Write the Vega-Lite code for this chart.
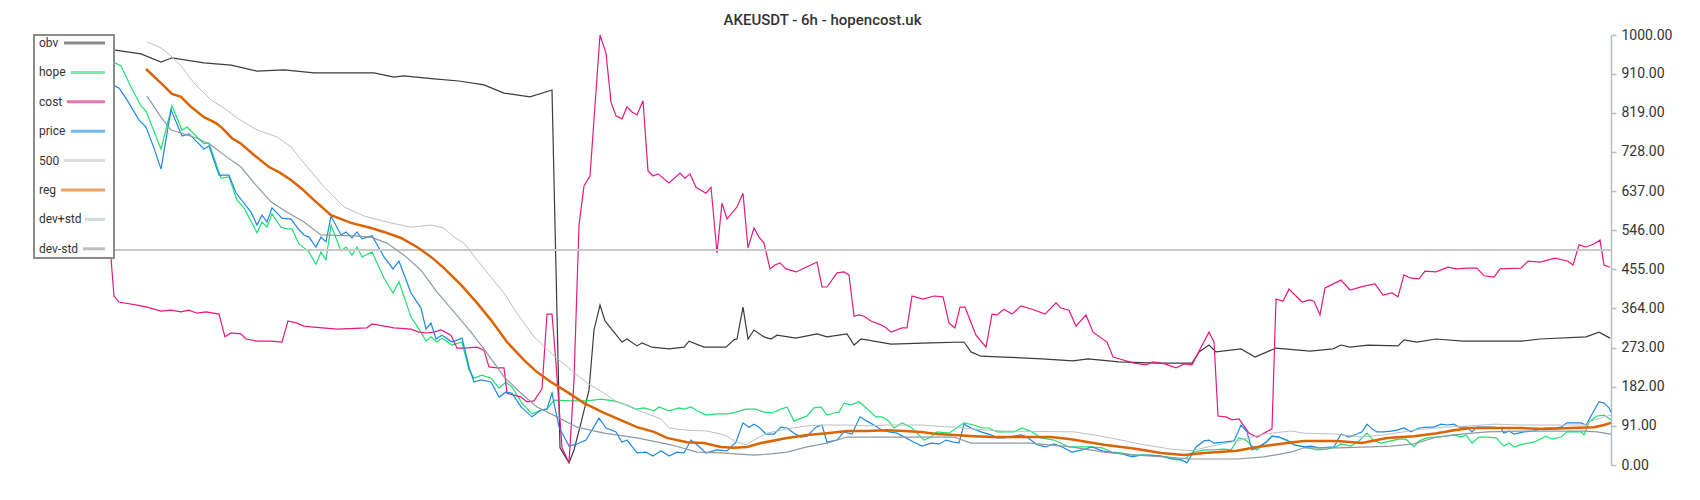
{
  "$schema": "https://vega.github.io/schema/vega-lite/v6.json",
  "width": 1577,
  "height": 430,
  "padding": {"left": 30, "top": 13, "right": 10, "bottom": 35},
  "background": "white",
  "title": {"text": "AKEUSDT - 6h - hopencost.uk", "font": "Roboto", "fontSize": 15, "fontWeight": 500, "color": "#333333", "offset": 0, "anchor": "middle"},
  "config": {"view": {"stroke": null}, "font": "Roboto"},
  "datasets": {
    "obv": [{"t":0,"v":977},{"t":30,"v":972},{"t":81,"v":965},{"t":107,"v":956},{"t":127,"v":937},{"t":138,"v":947},{"t":170,"v":935},{"t":197,"v":930},{"t":223,"v":916},{"t":250,"v":919},{"t":280,"v":912},{"t":310,"v":912},{"t":340,"v":912},{"t":360,"v":902},{"t":370,"v":905},{"t":400,"v":898},{"t":425,"v":893},{"t":450,"v":884},{"t":470,"v":865},{"t":496,"v":856},{"t":518,"v":872},{"t":526,"v":40},{"t":535,"v":5},{"t":540,"v":35},{"t":547,"v":98},{"t":555,"v":174},{"t":560,"v":314},{"t":566,"v":372},{"t":571,"v":335},{"t":588,"v":286},{"t":593,"v":293},{"t":603,"v":277},{"t":608,"v":284},{"t":618,"v":274},{"t":635,"v":270},{"t":650,"v":274},{"t":655,"v":288},{"t":670,"v":274},{"t":692,"v":274},{"t":700,"v":291},{"t":703,"v":293},{"t":709,"v":367},{"t":714,"v":293},{"t":720,"v":314},{"t":730,"v":298},{"t":737,"v":293},{"t":743,"v":302},{"t":762,"v":295},{"t":783,"v":305},{"t":793,"v":298},{"t":813,"v":305},{"t":820,"v":279},{"t":827,"v":293},{"t":857,"v":281},{"t":897,"v":284},{"t":930,"v":286},{"t":937,"v":263},{"t":947,"v":253},{"t":970,"v":251},{"t":1008,"v":247},{"t":1039,"v":242},{"t":1054,"v":247},{"t":1085,"v":240},{"t":1123,"v":237},{"t":1158,"v":237},{"t":1165,"v":263},{"t":1175,"v":279},{"t":1182,"v":263},{"t":1207,"v":270},{"t":1221,"v":251},{"t":1242,"v":272},{"t":1276,"v":265},{"t":1299,"v":270},{"t":1307,"v":279},{"t":1316,"v":274},{"t":1334,"v":279},{"t":1364,"v":277},{"t":1370,"v":291},{"t":1383,"v":286},{"t":1402,"v":293},{"t":1429,"v":288},{"t":1487,"v":288},{"t":1506,"v":293},{"t":1552,"v":298},{"t":1565,"v":309},{"t":1576,"v":295}],
    "hope": [{"t":0,"v":955},{"t":30,"v":947},{"t":60,"v":942},{"t":81,"v":935},{"t":87,"v":928},{"t":97,"v":879},{"t":107,"v":835},{"t":112,"v":823},{"t":127,"v":735},{"t":138,"v":835},{"t":148,"v":779},{"t":153,"v":786},{"t":170,"v":747},{"t":175,"v":749},{"t":187,"v":667},{"t":195,"v":670},{"t":203,"v":616},{"t":210,"v":598},{"t":223,"v":540},{"t":228,"v":565},{"t":233,"v":553},{"t":238,"v":584},{"t":247,"v":553},{"t":253,"v":549},{"t":258,"v":549},{"t":265,"v":514},{"t":270,"v":505},{"t":275,"v":495},{"t":282,"v":467},{"t":287,"v":495},{"t":292,"v":477},{"t":297,"v":558},{"t":307,"v":498},{"t":312,"v":507},{"t":318,"v":488},{"t":323,"v":507},{"t":328,"v":484},{"t":338,"v":495},{"t":350,"v":435},{"t":359,"v":400},{"t":365,"v":426},{"t":377,"v":344},{"t":387,"v":309},{"t":392,"v":288},{"t":397,"v":298},{"t":403,"v":286},{"t":408,"v":295},{"t":418,"v":279},{"t":428,"v":286},{"t":435,"v":221},{"t":440,"v":202},{"t":448,"v":209},{"t":457,"v":202},{"t":465,"v":179},{"t":472,"v":193},{"t":478,"v":181},{"t":488,"v":144},{"t":498,"v":119},{"t":507,"v":128},{"t":513,"v":130},{"t":520,"v":151},{"t":537,"v":149},{"t":553,"v":149},{"t":567,"v":153},{"t":580,"v":149},{"t":592,"v":140},{"t":602,"v":130},{"t":610,"v":133},{"t":620,"v":126},{"t":625,"v":135},{"t":635,"v":126},{"t":645,"v":133},{"t":650,"v":130},{"t":657,"v":135},{"t":663,"v":126},{"t":672,"v":116},{"t":683,"v":119},{"t":693,"v":119},{"t":702,"v":123},{"t":712,"v":130},{"t":722,"v":130},{"t":730,"v":123},{"t":738,"v":121},{"t":747,"v":130},{"t":753,"v":135},{"t":760,"v":102},{"t":767,"v":109},{"t":773,"v":114},{"t":780,"v":133},{"t":787,"v":135},{"t":793,"v":116},{"t":800,"v":121},{"t":805,"v":123},{"t":810,"v":144},{"t":817,"v":140},{"t":825,"v":147},{"t":832,"v":133},{"t":842,"v":112},{"t":848,"v":112},{"t":855,"v":102},{"t":860,"v":86},{"t":868,"v":98},{"t":877,"v":88},{"t":883,"v":74},{"t":890,"v":58},{"t":897,"v":65},{"t":903,"v":77},{"t":915,"v":74},{"t":930,"v":98},{"t":940,"v":93},{"t":948,"v":86},{"t":955,"v":86},{"t":963,"v":77},{"t":970,"v":77},{"t":980,"v":77},{"t":988,"v":86},{"t":998,"v":77},{"t":1007,"v":63},{"t":1020,"v":58},{"t":1035,"v":42},{"t":1047,"v":42},{"t":1057,"v":42},{"t":1068,"v":40},{"t":1078,"v":30},{"t":1087,"v":28},{"t":1098,"v":23},{"t":1110,"v":23},{"t":1123,"v":21},{"t":1133,"v":19},{"t":1143,"v":12},{"t":1152,"v":16},{"t":1157,"v":28},{"t":1170,"v":35},{"t":1178,"v":35},{"t":1190,"v":37},{"t":1197,"v":35},{"t":1205,"v":63},{"t":1212,"v":58},{"t":1218,"v":44},{"t":1223,"v":35},{"t":1232,"v":53},{"t":1238,"v":67},{"t":1245,"v":65},{"t":1253,"v":56},{"t":1260,"v":47},{"t":1270,"v":42},{"t":1283,"v":35},{"t":1293,"v":37},{"t":1302,"v":42},{"t":1307,"v":49},{"t":1317,"v":44},{"t":1325,"v":56},{"t":1333,"v":74},{"t":1340,"v":56},{"t":1347,"v":51},{"t":1357,"v":56},{"t":1365,"v":60},{"t":1372,"v":60},{"t":1380,"v":42},{"t":1385,"v":56},{"t":1393,"v":63},{"t":1403,"v":65},{"t":1412,"v":67},{"t":1420,"v":70},{"t":1427,"v":65},{"t":1432,"v":70},{"t":1438,"v":51},{"t":1445,"v":65},{"t":1453,"v":65},{"t":1462,"v":63},{"t":1470,"v":44},{"t":1475,"v":51},{"t":1480,"v":42},{"t":1490,"v":49},{"t":1500,"v":53},{"t":1512,"v":67},{"t":1518,"v":60},{"t":1527,"v":65},{"t":1533,"v":77},{"t":1547,"v":77},{"t":1550,"v":70},{"t":1555,"v":100},{"t":1563,"v":114},{"t":1570,"v":116},{"t":1577,"v":105}],
    "cost": [{"t":0,"v":686},{"t":70,"v":686},{"t":80,"v":393},{"t":85,"v":379},{"t":103,"v":372},{"t":113,"v":367},{"t":127,"v":358},{"t":137,"v":360},{"t":147,"v":356},{"t":155,"v":360},{"t":163,"v":353},{"t":172,"v":356},{"t":185,"v":351},{"t":191,"v":298},{"t":197,"v":307},{"t":207,"v":305},{"t":212,"v":293},{"t":223,"v":288},{"t":237,"v":288},{"t":248,"v":286},{"t":254,"v":335},{"t":263,"v":330},{"t":270,"v":323},{"t":277,"v":321},{"t":303,"v":316},{"t":333,"v":319},{"t":338,"v":328},{"t":360,"v":319},{"t":377,"v":316},{"t":385,"v":309},{"t":393,"v":307},{"t":400,"v":309},{"t":407,"v":314},{"t":417,"v":302},{"t":423,"v":272},{"t":430,"v":272},{"t":443,"v":274},{"t":450,"v":267},{"t":455,"v":228},{"t":463,"v":226},{"t":470,"v":226},{"t":473,"v":167},{"t":487,"v":158},{"t":493,"v":147},{"t":500,"v":149},{"t":508,"v":177},{"t":513,"v":351},{"t":518,"v":351},{"t":522,"v":237},{"t":528,"v":40},{"t":535,"v":5},{"t":540,"v":198},{"t":545,"v":558},{"t":550,"v":649},{"t":556,"v":672},{"t":566,"v":1000},{"t":572,"v":958},{"t":577,"v":844},{"t":582,"v":812},{"t":588,"v":805},{"t":593,"v":833},{"t":598,"v":821},{"t":603,"v":814},{"t":609,"v":847},{"t":614,"v":684},{"t":619,"v":672},{"t":624,"v":677},{"t":635,"v":656},{"t":646,"v":679},{"t":651,"v":667},{"t":656,"v":677},{"t":662,"v":646},{"t":672,"v":632},{"t":677,"v":646},{"t":683,"v":493},{"t":688,"v":609},{"t":693,"v":572},{"t":703,"v":600},{"t":709,"v":632},{"t":714,"v":505},{"t":720,"v":551},{"t":725,"v":530},{"t":730,"v":516},{"t":736,"v":456},{"t":741,"v":465},{"t":746,"v":470},{"t":752,"v":456},{"t":762,"v":449},{"t":772,"v":460},{"t":783,"v":472},{"t":788,"v":414},{"t":793,"v":414},{"t":803,"v":447},{"t":810,"v":449},{"t":815,"v":442},{"t":820,"v":346},{"t":825,"v":349},{"t":830,"v":346},{"t":837,"v":335},{"t":847,"v":326},{"t":852,"v":319},{"t":857,"v":309},{"t":868,"v":319},{"t":873,"v":319},{"t":878,"v":393},{"t":889,"v":386},{"t":900,"v":393},{"t":909,"v":391},{"t":915,"v":330},{"t":921,"v":319},{"t":926,"v":367},{"t":931,"v":367},{"t":942,"v":302},{"t":952,"v":274},{"t":958,"v":351},{"t":963,"v":349},{"t":970,"v":362},{"t":978,"v":351},{"t":987,"v":370},{"t":1001,"v":360},{"t":1011,"v":351},{"t":1022,"v":377},{"t":1027,"v":365},{"t":1035,"v":360},{"t":1042,"v":323},{"t":1052,"v":349},{"t":1059,"v":309},{"t":1073,"v":286},{"t":1079,"v":251},{"t":1085,"v":247},{"t":1100,"v":237},{"t":1112,"v":233},{"t":1119,"v":240},{"t":1131,"v":235},{"t":1142,"v":226},{"t":1150,"v":235},{"t":1158,"v":233},{"t":1167,"v":274},{"t":1175,"v":309},{"t":1180,"v":286},{"t":1184,"v":114},{"t":1192,"v":112},{"t":1198,"v":105},{"t":1205,"v":107},{"t":1215,"v":74},{"t":1223,"v":65},{"t":1238,"v":84},{"t":1242,"v":386},{"t":1249,"v":381},{"t":1255,"v":409},{"t":1268,"v":379},{"t":1276,"v":384},{"t":1280,"v":381},{"t":1286,"v":349},{"t":1291,"v":412},{"t":1307,"v":430},{"t":1316,"v":407},{"t":1330,"v":416},{"t":1341,"v":421},{"t":1349,"v":395},{"t":1358,"v":400},{"t":1364,"v":391},{"t":1370,"v":442},{"t":1376,"v":435},{"t":1385,"v":433},{"t":1391,"v":451},{"t":1402,"v":449},{"t":1414,"v":460},{"t":1422,"v":456},{"t":1433,"v":458},{"t":1443,"v":458},{"t":1450,"v":440},{"t":1460,"v":437},{"t":1466,"v":456},{"t":1487,"v":458},{"t":1494,"v":474},{"t":1506,"v":472},{"t":1521,"v":481},{"t":1534,"v":474},{"t":1539,"v":465},{"t":1545,"v":512},{"t":1552,"v":507},{"t":1560,"v":514},{"t":1566,"v":523},{"t":1570,"v":465},{"t":1576,"v":460}],
    "price": [{"t":0,"v":990},{"t":15,"v":1000},{"t":37,"v":1000},{"t":60,"v":940},{"t":81,"v":881},{"t":85,"v":877},{"t":93,"v":849},{"t":105,"v":802},{"t":112,"v":786},{"t":120,"v":737},{"t":127,"v":688},{"t":137,"v":826},{"t":148,"v":765},{"t":155,"v":770},{"t":170,"v":735},{"t":175,"v":742},{"t":185,"v":674},{"t":195,"v":674},{"t":202,"v":633},{"t":217,"v":588},{"t":223,"v":558},{"t":228,"v":581},{"t":233,"v":565},{"t":238,"v":598},{"t":248,"v":574},{"t":257,"v":572},{"t":265,"v":547},{"t":270,"v":535},{"t":275,"v":530},{"t":282,"v":507},{"t":287,"v":530},{"t":292,"v":519},{"t":297,"v":579},{"t":307,"v":535},{"t":312,"v":542},{"t":318,"v":528},{"t":323,"v":542},{"t":328,"v":526},{"t":338,"v":533},{"t":350,"v":484},{"t":359,"v":456},{"t":365,"v":474},{"t":377,"v":400},{"t":387,"v":365},{"t":392,"v":316},{"t":397,"v":330},{"t":402,"v":293},{"t":408,"v":302},{"t":418,"v":286},{"t":428,"v":295},{"t":435,"v":228},{"t":440,"v":193},{"t":447,"v":198},{"t":457,"v":193},{"t":465,"v":158},{"t":472,"v":170},{"t":478,"v":167},{"t":487,"v":135},{"t":498,"v":112},{"t":507,"v":128},{"t":513,"v":130},{"t":518,"v":167},{"t":525,"v":88},{"t":535,"v":44},{"t":543,"v":49},{"t":552,"v":58},{"t":565,"v":109},{"t":572,"v":86},{"t":582,"v":77},{"t":588,"v":53},{"t":593,"v":58},{"t":603,"v":28},{"t":612,"v":30},{"t":619,"v":21},{"t":627,"v":33},{"t":635,"v":21},{"t":643,"v":30},{"t":650,"v":28},{"t":657,"v":58},{"t":663,"v":47},{"t":672,"v":28},{"t":683,"v":35},{"t":693,"v":33},{"t":702,"v":53},{"t":709,"v":98},{"t":715,"v":88},{"t":720,"v":95},{"t":725,"v":88},{"t":732,"v":72},{"t":740,"v":72},{"t":747,"v":88},{"t":753,"v":86},{"t":760,"v":74},{"t":767,"v":65},{"t":773,"v":67},{"t":782,"v":88},{"t":788,"v":93},{"t":793,"v":53},{"t":803,"v":58},{"t":810,"v":77},{"t":818,"v":72},{"t":826,"v":112},{"t":833,"v":102},{"t":840,"v":93},{"t":848,"v":81},{"t":855,"v":77},{"t":863,"v":74},{"t":880,"v":53},{"t":888,"v":44},{"t":897,"v":51},{"t":905,"v":49},{"t":912,"v":58},{"t":920,"v":53},{"t":925,"v":51},{"t":930,"v":95},{"t":937,"v":86},{"t":947,"v":77},{"t":957,"v":70},{"t":963,"v":63},{"t":970,"v":63},{"t":987,"v":70},{"t":993,"v":65},{"t":1003,"v":47},{"t":1012,"v":42},{"t":1020,"v":49},{"t":1028,"v":42},{"t":1038,"v":30},{"t":1048,"v":35},{"t":1058,"v":42},{"t":1068,"v":33},{"t":1080,"v":28},{"t":1088,"v":26},{"t":1098,"v":19},{"t":1107,"v":23},{"t":1117,"v":23},{"t":1127,"v":21},{"t":1137,"v":14},{"t":1143,"v":14},{"t":1150,"v":9},{"t":1153,"v":5},{"t":1162,"v":42},{"t":1170,"v":56},{"t":1175,"v":58},{"t":1180,"v":51},{"t":1190,"v":53},{"t":1200,"v":56},{"t":1207,"v":93},{"t":1213,"v":77},{"t":1218,"v":35},{"t":1223,"v":40},{"t":1232,"v":53},{"t":1238,"v":67},{"t":1245,"v":65},{"t":1253,"v":58},{"t":1260,"v":47},{"t":1270,"v":42},{"t":1277,"v":44},{"t":1285,"v":40},{"t":1300,"v":42},{"t":1307,"v":72},{"t":1315,"v":65},{"t":1323,"v":72},{"t":1328,"v":77},{"t":1333,"v":95},{"t":1338,"v":84},{"t":1343,"v":77},{"t":1350,"v":77},{"t":1357,"v":79},{"t":1363,"v":81},{"t":1370,"v":86},{"t":1377,"v":77},{"t":1385,"v":86},{"t":1393,"v":88},{"t":1400,"v":88},{"t":1407,"v":95},{"t":1413,"v":93},{"t":1420,"v":95},{"t":1425,"v":88},{"t":1433,"v":88},{"t":1438,"v":77},{"t":1443,"v":88},{"t":1457,"v":88},{"t":1467,"v":86},{"t":1470,"v":74},{"t":1475,"v":79},{"t":1480,"v":72},{"t":1490,"v":77},{"t":1500,"v":79},{"t":1510,"v":86},{"t":1520,"v":86},{"t":1527,"v":88},{"t":1533,"v":98},{"t":1547,"v":98},{"t":1552,"v":93},{"t":1557,"v":114},{"t":1565,"v":147},{"t":1570,"v":144},{"t":1575,"v":133},{"t":1577,"v":123}],
    "level": [{"t":0,"v":500},{"t":1577,"v":500}],
    "reg": [{"t":112,"v":921},{"t":127,"v":888},{"t":138,"v":863},{"t":147,"v":856},{"t":157,"v":833},{"t":170,"v":809},{"t":182,"v":795},{"t":188,"v":784},{"t":198,"v":760},{"t":207,"v":747},{"t":220,"v":721},{"t":235,"v":693},{"t":245,"v":681},{"t":257,"v":663},{"t":268,"v":642},{"t":280,"v":616},{"t":297,"v":581},{"t":317,"v":563},{"t":337,"v":551},{"t":350,"v":542},{"t":367,"v":528},{"t":383,"v":507},{"t":397,"v":484},{"t":410,"v":458},{"t":427,"v":419},{"t":443,"v":377},{"t":457,"v":337},{"t":473,"v":286},{"t":490,"v":244},{"t":503,"v":216},{"t":517,"v":193},{"t":533,"v":170},{"t":550,"v":144},{"t":570,"v":121},{"t":603,"v":88},{"t":620,"v":77},{"t":633,"v":63},{"t":653,"v":53},{"t":670,"v":51},{"t":687,"v":42},{"t":700,"v":40},{"t":713,"v":42},{"t":727,"v":51},{"t":753,"v":63},{"t":773,"v":70},{"t":793,"v":74},{"t":813,"v":79},{"t":833,"v":79},{"t":853,"v":81},{"t":870,"v":79},{"t":887,"v":77},{"t":903,"v":72},{"t":920,"v":70},{"t":940,"v":67},{"t":960,"v":65},{"t":987,"v":65},{"t":1017,"v":65},{"t":1037,"v":60},{"t":1070,"v":47},{"t":1103,"v":37},{"t":1127,"v":28},{"t":1150,"v":23},{"t":1170,"v":28},{"t":1203,"v":33},{"t":1223,"v":42},{"t":1253,"v":51},{"t":1270,"v":56},{"t":1303,"v":56},{"t":1328,"v":51},{"t":1353,"v":63},{"t":1380,"v":67},{"t":1403,"v":74},{"t":1420,"v":81},{"t":1437,"v":86},{"t":1457,"v":86},{"t":1487,"v":86},{"t":1510,"v":84},{"t":1537,"v":86},{"t":1560,"v":88},{"t":1570,"v":93},{"t":1577,"v":98}],
    "devplus": [{"t":113,"v":984},{"t":127,"v":970},{"t":138,"v":949},{"t":148,"v":926},{"t":160,"v":888},{"t":177,"v":849},{"t":190,"v":830},{"t":203,"v":807},{"t":223,"v":779},{"t":243,"v":763},{"t":257,"v":740},{"t":270,"v":702},{"t":290,"v":647},{"t":310,"v":600},{"t":330,"v":579},{"t":353,"v":565},{"t":377,"v":553},{"t":397,"v":558},{"t":410,"v":551},{"t":420,"v":530},{"t":430,"v":516},{"t":443,"v":477},{"t":457,"v":437},{"t":470,"v":400},{"t":483,"v":353},{"t":500,"v":298},{"t":517,"v":260},{"t":537,"v":221},{"t":553,"v":191},{"t":570,"v":167},{"t":580,"v":151},{"t":603,"v":128},{"t":627,"v":107},{"t":635,"v":86},{"t":653,"v":81},{"t":673,"v":79},{"t":690,"v":70},{"t":703,"v":53},{"t":712,"v":47},{"t":720,"v":58},{"t":733,"v":74},{"t":753,"v":84},{"t":773,"v":91},{"t":793,"v":93},{"t":813,"v":93},{"t":833,"v":91},{"t":853,"v":93},{"t":887,"v":93},{"t":920,"v":88},{"t":953,"v":81},{"t":970,"v":79},{"t":1040,"v":77},{"t":1060,"v":70},{"t":1087,"v":58},{"t":1110,"v":47},{"t":1137,"v":37},{"t":1157,"v":33},{"t":1170,"v":40},{"t":1203,"v":56},{"t":1230,"v":72},{"t":1257,"v":79},{"t":1270,"v":74},{"t":1300,"v":72},{"t":1327,"v":65},{"t":1350,"v":70},{"t":1380,"v":81},{"t":1410,"v":88},{"t":1437,"v":91},{"t":1460,"v":95},{"t":1487,"v":93},{"t":1520,"v":93},{"t":1550,"v":93},{"t":1560,"v":105},{"t":1577,"v":116}],
    "devminus": [{"t":113,"v":858},{"t":127,"v":809},{"t":137,"v":779},{"t":147,"v":772},{"t":163,"v":760},{"t":177,"v":744},{"t":193,"v":716},{"t":207,"v":693},{"t":220,"v":656},{"t":237,"v":612},{"t":253,"v":588},{"t":270,"v":565},{"t":287,"v":535},{"t":320,"v":533},{"t":337,"v":530},{"t":353,"v":516},{"t":370,"v":488},{"t":387,"v":453},{"t":403,"v":402},{"t":420,"v":356},{"t":437,"v":309},{"t":453,"v":260},{"t":470,"v":205},{"t":487,"v":167},{"t":503,"v":135},{"t":523,"v":112},{"t":543,"v":88},{"t":570,"v":74},{"t":603,"v":63},{"t":637,"v":47},{"t":663,"v":30},{"t":687,"v":28},{"t":720,"v":23},{"t":737,"v":26},{"t":753,"v":30},{"t":773,"v":42},{"t":793,"v":51},{"t":813,"v":65},{"t":853,"v":65},{"t":920,"v":65},{"t":937,"v":51},{"t":970,"v":51},{"t":997,"v":51},{"t":1037,"v":42},{"t":1070,"v":30},{"t":1103,"v":23},{"t":1130,"v":19},{"t":1157,"v":14},{"t":1203,"v":14},{"t":1230,"v":19},{"t":1257,"v":30},{"t":1270,"v":40},{"t":1303,"v":40},{"t":1337,"v":42},{"t":1357,"v":44},{"t":1380,"v":49},{"t":1403,"v":65},{"t":1427,"v":72},{"t":1453,"v":77},{"t":1487,"v":79},{"t":1550,"v":79},{"t":1563,"v":77},{"t":1577,"v":72}]
  },
  "encoding": {
    "x": {"field": "t", "type": "quantitative", "scale": {"domain": [0, 1577], "nice": false, "zero": false}, "axis": null},
    "y": {"field": "v", "type": "quantitative", "scale": {"domain": [0, 1000], "nice": false, "zero": false},
      "axis": {"orient": "right", "title": null, "grid": false, "values": [0, 91, 182, 273, 364, 455, 546, 637, 728, 819, 910, 1000], "format": ".2f", "labelFont": "Roboto", "labelFontSize": 14, "labelColor": "#333333", "labelPadding": 5, "tickSize": 5, "tickColor": "#b3bec6", "domainColor": "#b3bec6", "domainWidth": 1.5, "tickWidth": 1.5}}
  },
  "layer": [
    {"data": {"name": "obv"}, "mark": {"type": "line", "strokeWidth": 1.2},
     "encoding": {"color": {"datum": "obv", "type": "nominal",
       "scale": {"domain": ["obv", "hope", "cost", "price", "500", "reg", "dev+std", "dev-std"], "range": ["#3c3c3c", "#1ee06f", "#e6197f", "#1e88e5", "#c8c8c8", "#dc6400", "#b9c0c5", "#8d99a2"]},
       "legend": {"orient": "none", "legendX": 0, "legendY": 0, "title": " ", "titleFontSize": 3, "titlePadding": 2, "symbolType": "stroke", "symbolStrokeWidth": 3, "symbolOpacity": 0.6, "symbolSize": 100, "rowPadding": 17.4, "padding": 3, "fillColor": "white", "strokeColor": "#8c8c8c", "labelFont": "Roboto", "labelFontSize": 12, "labelColor": "#333333", "labelLimit": 100,
         "encode": {
           "legend": {"update": {"strokeWidth": {"value": 2}}},
           "entries": {"update": {"width": {"value": 75}}},
           "symbols": {"update": {"x": {"signal": "68 - [41,34,38,34,41,44,20,22][datum.index]/2"}, "size": {"signal": "pow([41,34,38,34,41,44,20,22][datum.index], 2)"}}},
           "labels": {"update": {"x": {"value": 2}}}
         }}}}},
    {"data": {"name": "hope"}, "mark": {"type": "line", "strokeWidth": 1.2}, "encoding": {"color": {"datum": "hope", "type": "nominal"}}},
    {"data": {"name": "cost"}, "mark": {"type": "line", "strokeWidth": 1.2}, "encoding": {"color": {"datum": "cost", "type": "nominal"}}},
    {"data": {"name": "price"}, "mark": {"type": "line", "strokeWidth": 1.2}, "encoding": {"color": {"datum": "price", "type": "nominal"}}},
    {"data": {"name": "level"}, "mark": {"type": "line", "strokeWidth": 2}, "encoding": {"color": {"datum": "500", "type": "nominal"}}},
    {"data": {"name": "reg"}, "mark": {"type": "line", "strokeWidth": 2.5}, "encoding": {"color": {"datum": "reg", "type": "nominal"}}},
    {"data": {"name": "devplus"}, "mark": {"type": "line", "strokeWidth": 1}, "encoding": {"color": {"datum": "dev+std", "type": "nominal"}}},
    {"data": {"name": "devminus"}, "mark": {"type": "line", "strokeWidth": 1.2}, "encoding": {"color": {"datum": "dev-std", "type": "nominal"}}}
  ]
}
